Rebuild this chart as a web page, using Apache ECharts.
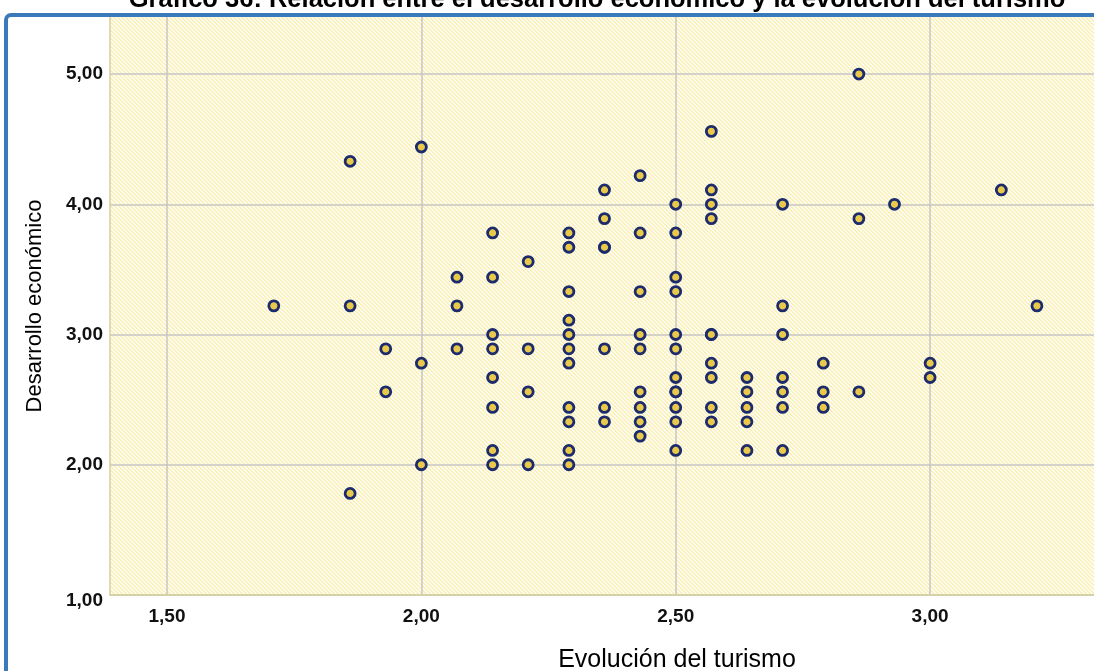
<!DOCTYPE html>
<html>
<head>
<meta charset="utf-8">
<script src="https://cdn.jsdelivr.net/npm/echarts@6/dist/echarts.min.js"></script>
<style>
html,body{margin:0;padding:0;background:#fff;}
#chart{width:1094px;height:671px;}
</style>
</head>
<body>
<div id="chart"></div>
<script>
// Evolución del turismo (x) and Desarrollo económico (y), one entry per respondent
const turismo = [
  1.71,
  1.86, 1.86, 1.86,
  1.93, 1.93,
  2.00, 2.00, 2.00,
  2.07, 2.07, 2.07,
  2.14, 2.14, 2.14, 2.14, 2.14, 2.14, 2.14, 2.14,
  2.21, 2.21, 2.21, 2.21,
  2.29, 2.29, 2.29, 2.29, 2.29, 2.29, 2.29, 2.29, 2.29, 2.29, 2.29,
  2.36, 2.36, 2.36, 2.36, 2.36, 2.36, 2.36,
  2.43, 2.43, 2.43, 2.43, 2.43, 2.43, 2.43, 2.43, 2.43,
  2.50, 2.50, 2.50, 2.50, 2.50, 2.50, 2.50, 2.50, 2.50, 2.50, 2.50, 2.50,
  2.57, 2.57, 2.57, 2.57, 2.57, 2.57, 2.57, 2.57, 2.57, 2.57,
  2.64, 2.64, 2.64, 2.64, 2.64,
  2.71, 2.71, 2.71, 2.71, 2.71, 2.71, 2.71,
  2.79, 2.79, 2.79,
  2.86, 2.86, 2.86,
  2.93,
  3.00, 3.00,
  3.14,
  3.21
];
const desarrollo = [
  3.22,
  4.33, 3.22, 1.78,
  2.89, 2.56,
  4.44, 2.78, 2.00,
  3.44, 3.22, 2.89,
  3.78, 3.44, 3.00, 2.89, 2.67, 2.44, 2.11, 2.00,
  3.56, 2.89, 2.56, 2.00,
  3.78, 3.67, 3.33, 3.11, 3.00, 2.89, 2.78, 2.44, 2.33, 2.11, 2.00,
  4.11, 3.89, 3.67, 3.67, 2.89, 2.44, 2.33,
  4.22, 3.78, 3.33, 3.00, 2.89, 2.56, 2.44, 2.33, 2.22,
  4.00, 3.78, 3.44, 3.33, 3.00, 2.89, 2.67, 2.56, 2.56, 2.44, 2.33, 2.11,
  4.56, 4.11, 4.00, 3.89, 3.00, 3.00, 2.78, 2.67, 2.44, 2.33,
  2.67, 2.56, 2.44, 2.33, 2.11,
  4.00, 3.22, 3.00, 2.67, 2.56, 2.44, 2.11,
  2.78, 2.56, 2.44,
  5.00, 3.89, 2.56,
  4.00,
  2.78, 2.67,
  4.11,
  3.22
];
const xTicks = [1.5, 2.0, 2.5, 3.0];
const yTicks = [1, 2, 3, 4, 5];
const titleText = 'Gráfico 36: Relación entre el desarrollo económico y la evolución del turismo';
const xName = 'Evolución del turismo';
const yName = 'Desarrollo económico';

const points = turismo.map((x, i) => [x, desarrollo[i]]);

// hatch pattern for the plot background
const tile = document.createElement('canvas');
tile.width = 8; tile.height = 8;
const tctx = tile.getContext('2d');
const img = tctx.createImageData(8, 8);
for (let j = 0; j < 8; j++) {
  for (let i = 0; i < 8; i++) {
    const k = ((i - j) % 4 + 4) % 4;
    const c = (k < 2) ? [250, 240, 188] : [255, 253, 240];
    const p = (j * 8 + i) * 4;
    img.data[p] = c[0]; img.data[p+1] = c[1]; img.data[p+2] = c[2]; img.data[p+3] = 255;
  }
}
tctx.putImageData(img, 0, 0);

const fmt = v => v.toFixed(2).replace('.', ',');
const FONT = '"Liberation Sans", Arial, sans-serif';

const chart = echarts.init(document.getElementById('chart'), null, {renderer: 'canvas'});
chart.setOption({
  animation: false,
  backgroundColor: '#ffffff',
  title: {
    text: titleText,
    left: 592,
    textAlign: 'center',
    top: -18,
    textStyle: {fontFamily: FONT, fontSize: 25.5, fontWeight: 'bold', color: '#000'}
  },
  grid: {
    left: 110, top: 17, width: 1134, height: 578,
    outerBoundsMode: 'none',
    containLabel: false,
    show: true, borderWidth: 0,
    backgroundColor: {image: tile, repeat: 'repeat'}
  },
  xAxis: {
    type: 'value',
    min: 1.388, max: 3.617,
    name: xName,
    nameLocation: 'middle',
    nameGap: 53,
    nameMoveOverlap: false,
    nameTextStyle: {fontFamily: FONT, fontSize: 25, color: '#000'},
    axisLine: {show: true, onZero: false, lineStyle: {color: '#d6cf9c', width: 1.5}},
    axisTick: {show: false, customValues: xTicks},
    axisLabel: {customValues: xTicks, formatter: fmt, margin: 12,
      fontFamily: FONT, fontSize: 19, fontWeight: 'bold', color: '#111'},
    splitLine: {show: true, lineStyle: {color: '#c6c6c6', width: 1.5}}
  },
  yAxis: {
    type: 'value',
    min: 1, max: 5.438,
    name: yName,
    nameLocation: 'middle',
    nameGap: 64,
    nameMoveOverlap: false,
    nameTextStyle: {fontFamily: FONT, fontSize: 22, color: '#000'},
    axisLine: {show: true, onZero: false, lineStyle: {color: '#d6cf9c', width: 1.5}},
    axisTick: {show: false, customValues: yTicks},
    axisLabel: {customValues: yTicks,
      formatter: v => (v === 1 ? '{low|' + fmt(v) + '}' : fmt(v)),
      rich: {low: {padding: [12, 0, 0, 0], fontFamily: FONT, fontSize: 19, fontWeight: 'bold', color: '#111'}},
      margin: 7,
      fontFamily: FONT, fontSize: 19, fontWeight: 'bold', color: '#111'},
    splitLine: {show: true, lineStyle: {color: '#c6c6c6', width: 1.5}}
  },
  series: [{
    type: 'scatter',
    data: points,
    symbol: 'circle',
    symbolSize: 10,
    itemStyle: {color: '#e9c94b', borderColor: '#1c2b6c', borderWidth: 2.8, opacity: 1}
  }],
  graphic: [{
    type: 'rect',
    z: 100,
    silent: true,
    shape: {x: 6, y: 15, width: 1300, height: 900, r: 5},
    style: {fill: 'none', stroke: '#3a79ba', lineWidth: 4}
  }]
});
</script>
</body>
</html>
